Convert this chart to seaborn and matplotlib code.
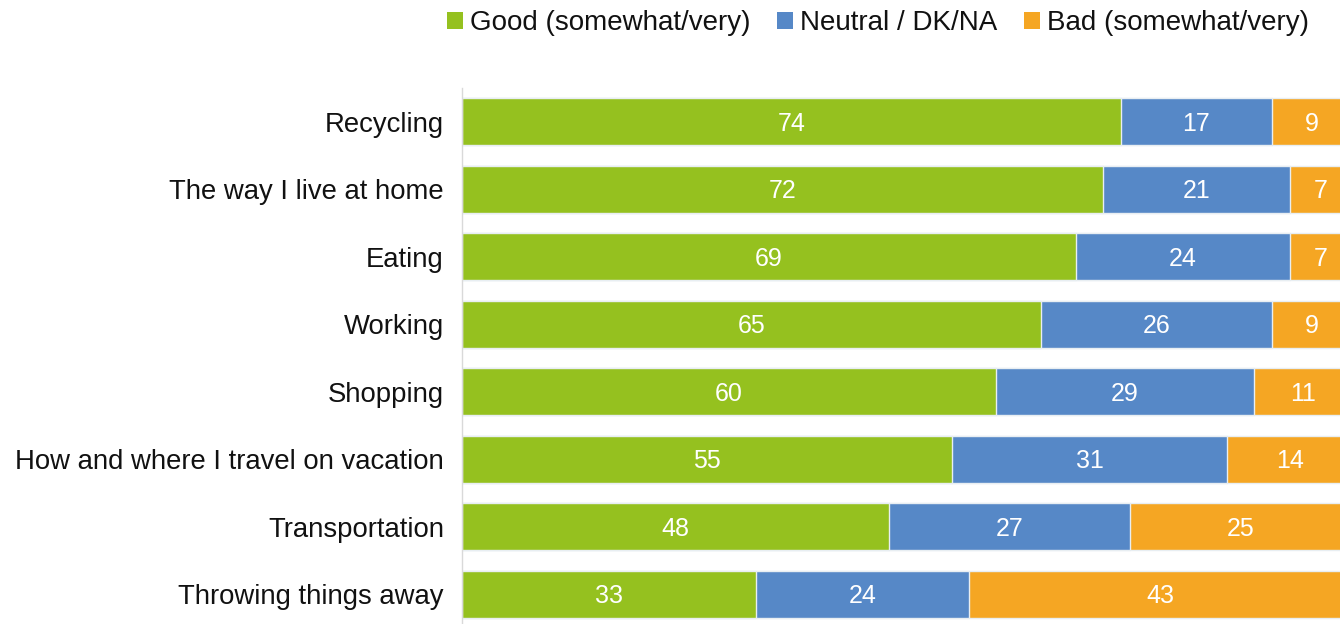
import matplotlib
matplotlib.use("Agg")
import matplotlib.pyplot as plt
from matplotlib.patches import Patch
import numpy as np
import pandas as pd
import seaborn as sns

categories = [
    "Recycling",
    "The way I live at home",
    "Eating",
    "Working",
    "Shopping",
    "How and where I travel on vacation",
    "Transportation",
    "Throwing things away",
]
good = [74, 72, 69, 65, 60, 55, 48, 33]
neutral = [17, 21, 24, 26, 29, 31, 27, 24]
bad = [9, 7, 7, 9, 11, 14, 25, 43]

series_names = ["Good (somewhat/very)", "Neutral / DK/NA", "Bad (somewhat/very)"]
colors = ["#95C11F", "#5688C7", "#F5A623"]

sns.set_theme(style="white")
plt.rcParams["font.family"] = ["Liberation Sans", "DejaVu Sans"]

df = pd.DataFrame({"category": categories, "good": good, "neutral": neutral, "bad": bad})
df["c1"] = df["good"]
df["c2"] = df["good"] + df["neutral"]
df["c3"] = df["c2"] + df["bad"]

W, H = 1340, 624
fig = plt.figure(figsize=(W / 100, H / 100), dpi=100)
ax = fig.add_axes([462 / W, -4 / H, 890 / W, 540 / H])

# stacked bars: draw cumulative totals from the outermost layer inward
for col, color in zip(["c3", "c2", "c1"], colors[::-1]):
    sns.barplot(data=df, x=col, y="category", orient="h", color=color,
                width=0.70, edgecolor="#E8EEF2", linewidth=1.0, ax=ax,
                saturation=1)

# value labels centred in each segment
for i in range(len(categories)):
    starts = [0, good[i], good[i] + neutral[i]]
    vals = [good[i], neutral[i], bad[i]]
    for s, v in zip(starts, vals):
        ax.text(s + v / 2, i + 0.03, f"{v}", ha="center", va="center",
                color="white", fontsize=18)

ax.set_xlim(0, 100)
ax.set_ylim(len(categories) - 0.5, -0.5)
ax.set_xlabel("")
ax.set_ylabel("")
ax.set_xticks([])
ax.tick_params(axis="y", which="major", length=0, labelsize=19.8, pad=13,
               labelcolor="#111111")
ax.set_yticks(np.arange(len(categories)) + 0.5, minor=True)
ax.tick_params(axis="y", which="minor", length=5, color="#D9D9D9", width=1)
for side in ["top", "right", "bottom"]:
    ax.spines[side].set_visible(False)
ax.spines["left"].set_color("#D9D9D9")
ax.spines["left"].set_linewidth(1)

handles = [Patch(facecolor=c, edgecolor="none", label=n) for n, c in zip(series_names, colors)]
fig.legend(handles=handles, loc="upper right", bbox_to_anchor=(1309 / W, 1 - 10 / H), ncol=3,
           frameon=False, fontsize=20, handlelength=0.58, handleheight=0.58,
           handletextpad=0.25, columnspacing=0.95, labelcolor="#111111",
           borderaxespad=0, borderpad=0)

fig.savefig("out.png", dpi=100)
